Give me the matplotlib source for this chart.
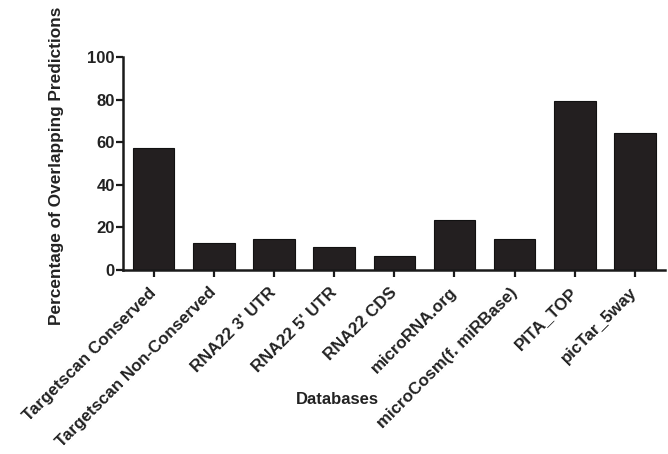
import matplotlib
matplotlib.use("Agg")
import matplotlib.pyplot as plt
import numpy as np

categories = ["Targetscan Conserved", "Targetscan Non-Conserved", "RNA22 3' UTR",
              "RNA22 5' UTR", "RNA22 CDS", "microRNA.org", "microCosm(f. miRBase)",
              "PITA_TOP", "picTar_5way"]
values = [57.4, 12.6, 14.5, 10.6, 6.5, 23.6, 14.5, 79.2, 64.5]
yticks = [0, 20, 40, 60, 80, 100]

plt.rcParams['font.family'] = ['Liberation Sans', 'DejaVu Sans']
plt.rcParams['font.weight'] = 'bold'

fig = plt.figure(figsize=(6.68, 4.54), dpi=100)
ax = fig.add_axes([123/668, 1-270/454, (665-123)/668, (270-57)/454])

x = np.arange(len(categories))
ax.bar(x, values, width=0.69, color='#231f20', edgecolor='#111111', linewidth=0.8, zorder=2)

ax.set_xlim(-0.51, 8.5)
ax.set_ylim(0, 100)
ax.set_yticks(yticks)
ax.set_yticklabels([str(t) for t in yticks], fontsize=12, fontweight='bold', color='#222222')
ax.set_xticks(x)
ax.set_xticklabels(categories, rotation=45, ha='right', va='center', rotation_mode='anchor',
                   fontsize=12.2, fontweight='bold', color='#222222')

for s in ['top', 'right']:
    ax.spines[s].set_visible(False)
for s in ['left', 'bottom']:
    ax.spines[s].set_linewidth(1.8)
    ax.spines[s].set_color('#1a1a1a')
ax.tick_params(axis='both', direction='out', length=5, width=1.6, color='#1a1a1a')
ax.tick_params(axis='x', pad=9.5)
ax.tick_params(axis='y', pad=1)

fig.text(337/668, 1-399/454, "Databases", ha='center', va='center', fontsize=12,
         fontweight='bold', color='#222222')
fig.text(57/668, 1-166/454, "Percentage of Overlapping Predictions", ha='center', va='center',
         rotation=90, fontsize=12.4, fontweight='bold', color='#222222')

fig.savefig("out.png", dpi=100, facecolor='white')
